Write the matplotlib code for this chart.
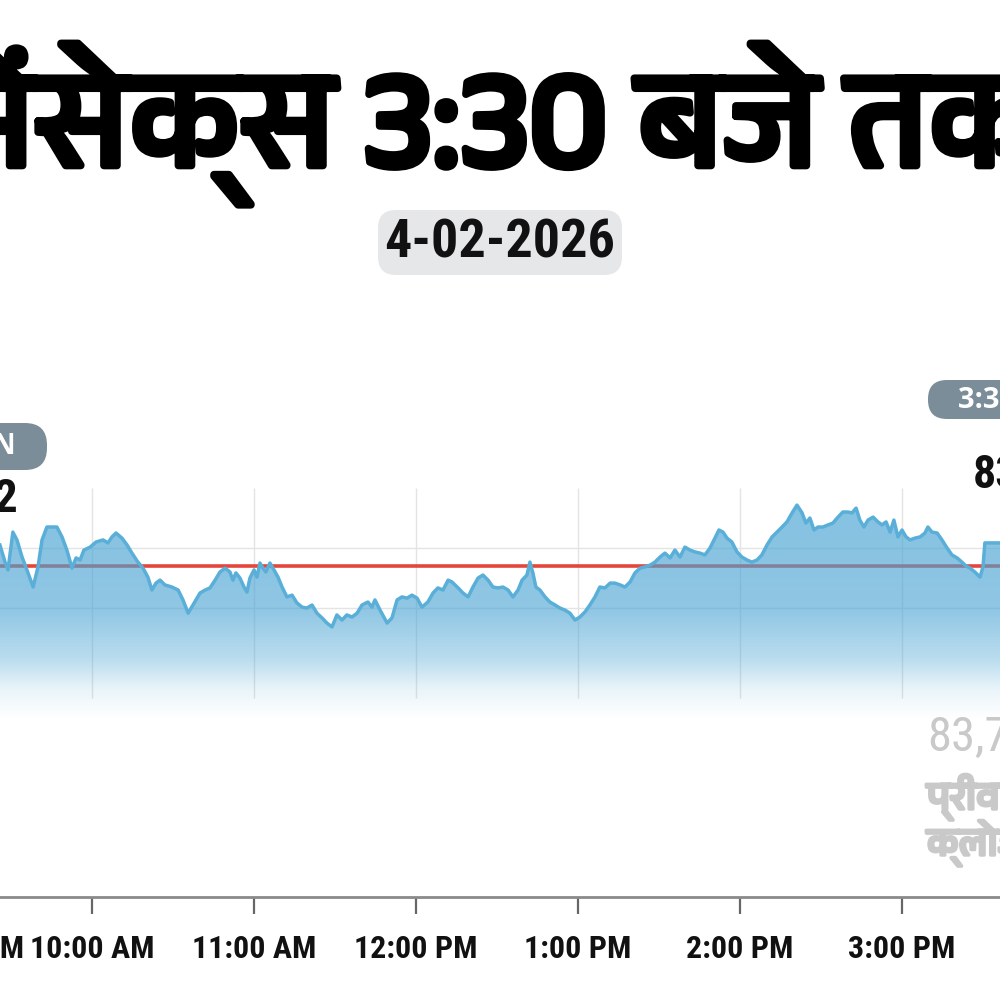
# -*- coding: utf-8 -*-
"""
सेंसेक्स 3:30 बजे तक - intraday area chart (4-02-2026)
"""
import numpy as np
import matplotlib
matplotlib.use('Agg')
import matplotlib.pyplot as plt
import matplotlib.patheffects as pe
from matplotlib import font_manager
from matplotlib.ft2font import FT2Font
from matplotlib.patches import FancyBboxPatch

# ---------------- data ----------------
# minutes after 9:00 AM, Sensex level
minutes = [25.9, 27.8, 28.9, 30.7, 32.2, 34.1, 35.9, 38.2, 40.0, 41.5, 43.3, 45.2, 47.0, 48.9,
           50.7, 52.6, 54.1, 55.6, 57.0, 59.3, 61.5, 64.1, 65.9, 67.4, 68.9, 71.1, 73.0, 74.8,
           77.0, 78.9, 80.7, 82.2, 83.7, 85.2, 87.0, 89.6, 91.9, 93.7, 95.6, 97.4, 100.0, 101.9,
           103.7, 105.6, 107.4, 109.3, 111.1, 112.2, 113.3, 114.8, 116.3, 117.4, 118.5, 120.0,
           121.1, 122.2, 123.3, 124.4, 125.9, 127.4, 128.9, 130.4, 132.2, 134.1, 135.9, 137.8,
           139.6, 141.5, 143.3, 145.2, 147.0, 148.9, 150.7, 152.6, 154.4, 156.3, 158.2, 160.0,
           162.2, 163.7, 164.8, 166.7, 169.3, 171.1, 173.0, 174.8, 176.7, 178.5, 180.4, 182.2,
           184.4, 186.3, 188.1, 190.0, 191.9, 193.3, 195.6, 197.4, 199.3, 201.1, 203.0, 204.8,
           206.7, 208.5, 210.4, 212.2, 214.1, 215.9, 217.8, 219.3, 221.1, 222.2, 223.3, 224.4,
           225.9, 227.8, 229.6, 231.5, 233.3, 235.2, 237.0, 238.9, 240.7, 242.6, 244.4, 246.3,
           248.1, 250.0, 251.9, 253.7, 255.6, 257.4, 259.3, 261.1, 263.0, 264.8, 266.7, 268.5,
           270.4, 272.2, 274.1, 275.9, 277.8, 279.6, 281.5, 283.3, 285.2, 287.0, 288.9, 290.7,
           292.2, 293.7, 295.2, 297.0, 298.9, 300.7, 302.6, 304.4, 306.3, 308.1, 310.0, 311.9,
           313.7, 315.6, 317.4, 319.3, 321.1, 323.0, 324.4, 325.9, 327.4, 328.9, 330.7, 332.6,
           334.4, 336.3, 338.1, 340.0, 341.5, 343.0, 344.4, 345.9, 347.4, 349.3, 351.1, 352.6,
           354.1, 355.6, 357.0, 358.5, 360.0, 361.5, 363.0, 364.8, 366.7, 368.5, 369.6, 371.1,
           373.0, 374.8, 376.7, 378.5, 380.4, 382.2, 383.7, 385.2, 387.0, 388.9, 390.0, 390.7,
           396.3, 400.0]
sensex = [83810, 83753, 83727, 83853, 83827, 83770, 83727, 83670, 83737, 83827, 83870, 83870, 83870, 83837,
          83793, 83733, 83767, 83760, 83793, 83803, 83820, 83827, 83817, 83837, 83850, 83833, 83810, 83783,
          83753, 83733, 83703, 83660, 83683, 83693, 83677, 83670, 83660, 83627, 83583, 83610, 83650, 83660,
          83667, 83693, 83720, 83733, 83720, 83693, 83717, 83700, 83670, 83653, 83700, 83727,
          83703, 83750, 83733, 83720, 83750, 83727, 83703, 83670, 83637, 83643, 83617, 83603,
          83600, 83610, 83583, 83567, 83550, 83537, 83577, 83560, 83577, 83570, 83583, 83610,
          83620, 83603, 83627, 83593, 83550, 83567, 83627, 83637, 83633, 83643, 83633, 83603,
          83620, 83650, 83667, 83660, 83693, 83687, 83667, 83650, 83637, 83670, 83700, 83710,
          83693, 83670, 83667, 83670, 83660, 83637, 83660, 83693, 83710, 83753, 83717, 83670,
          83660, 83637, 83620, 83610, 83600, 83593, 83583, 83560, 83570, 83587, 83610, 83637,
          83670, 83667, 83683, 83683, 83677, 83670, 83687, 83717, 83733, 83737, 83743, 83753,
          83770, 83783, 83767, 83793, 83770, 83803, 83793, 83787, 83783, 83777, 83800, 83833,
          83860, 83853, 83833, 83820, 83787, 83770, 83760, 83753, 83760, 83777, 83810, 83837,
          83853, 83870, 83887, 83917, 83943, 83917, 83883, 83900, 83860, 83870, 83870, 83877,
          83883, 83903, 83920, 83920, 83917, 83933, 83893, 83870, 83893, 83903, 83887, 83877,
          83887, 83853, 83893, 83837, 83860, 83837, 83827, 83833, 83837, 83850, 83870, 83853,
          83850, 83827, 83800, 83777, 83767, 83753, 83740, 83733, 83720, 83703, 83737, 83817,
          83817, 83817]

prev_close = 83739.13
open_value = '83,765.12'
close_value = '83,817.69'

tick_minutes = [60, 120, 180, 240, 300, 360]
tick_labels = ['10:00 AM', '11:00 AM', '12:00 PM', '1:00 PM', '2:00 PM', '3:00 PM']
first_tick = (15, '9:15 AM')
grid_levels = [83600, 83800]

title = 'सेंसेक्स 3:30 बजे तक'
date_text = '4-02-2026'
prev_lines = ['83,739.13', 'प्रीवियस', 'क्लोज']


# ---------------- fonts ----------------
def devanagari_font():
    """找一个带天城文字形的字体, 尽量不用点阵字体"""
    found = []
    for f in font_manager.fontManager.ttflist:
        try:
            if ord('स') in FT2Font(f.fname).get_charmap():
                found.append(f.name)
        except Exception:
            pass
    if not found:
        return None

    def rank(n):
        low = n.lower()
        if 'devanagari' in low:
            return 0
        if 'unifont' in low or 'fixed' in low:
            return 2
        return 1
    return sorted(found, key=rank)[0]

names = {f.name for f in font_manager.fontManager.ttflist}
deva = devanagari_font()
hindi_family = [deva, 'DejaVu Sans'] if deva else ['DejaVu Sans']
narrow = next((n for n in ['Liberation Sans Narrow', 'DejaVu Sans Condensed', 'Roboto Condensed', 'Roboto']
               if n in names), 'DejaVu Sans')
pill_font = 'Open Sans' if 'Open Sans' in names else 'DejaVu Sans'

plt.rcParams['font.family'] = [narrow, 'DejaVu Sans']

# ---------------- figure ----------------
fig = plt.figure(figsize=(10, 10), dpi=100)
ax = fig.add_axes([0, 0.103, 1, 0.409])

xmin, xmax = 25.93, 396.3
ymin, ymax = 82637, 84000

# grid
for lv in grid_levels:
    ax.axhline(lv, color='#e4e4e4', lw=1, zorder=1)
ax.vlines(tick_minutes, 83300, ymax, color='#e4e4e4', lw=1, zorder=1)

# previous close line (under the fill)
ax.axhline(prev_close, color='#e5463c', lw=2.6, zorder=1.5)

# gradient area fill
fill = ax.fill_between(minutes, sensex, ymin, color='none', lw=0)
lv = np.linspace(ymin, ymax, 500)
alpha = np.interp(lv, [83230, 83330, 83430, 83600, 84000], [0, 0.12, 0.38, 0.62, 0.68])
img = np.zeros((500, 1, 4))
img[..., 0], img[..., 1], img[..., 2] = 0.29, 0.64, 0.83
img[..., 3] = alpha[:, None]
im = ax.imshow(img, extent=[xmin, xmax, ymin, ymax], origin='lower', aspect='auto', zorder=2)
im.set_clip_path(fill.get_paths()[0], transform=ax.transData)

ax.plot(minutes, sensex, color='#5aafd8', lw=2.5, zorder=3, solid_joinstyle='round')

for s in ['top', 'left', 'right']:
    ax.spines[s].set_visible(False)
ax.spines['bottom'].set_color('#8a8a8a')
ax.spines['bottom'].set_linewidth(2)
ax.set_facecolor('none')
ax.set_yticks([])
ax.set_xticks(tick_minutes)
ax.set_xticklabels(tick_labels, fontsize=23, fontweight='bold', color='#111111')
ax.tick_params(axis='x', length=12, width=1.6, color='#666666', pad=15)
# set_xticks 会扩展范围, 所以最后再设定
ax.set_xlim(xmin, xmax)
ax.set_ylim(ymin, ymax)

# 9:15 的刻度在可视范围外, 只露出标签的一角
ax.annotate(first_tick[1], xy=(first_tick[0], 0), xycoords=('data', 'axes fraction'),
            xytext=(0, -27), textcoords='offset points', ha='center', va='top',
            fontsize=23, fontweight='bold', color='#111111', annotation_clip=False)

# ---------------- text ----------------
bold_fx = [pe.withStroke(linewidth=5.5, foreground='black')]
fig.text(0.49, 0.876, title, ha='center', va='center', fontsize=99,
         family=hindi_family, color='black', path_effects=bold_fx)

fig.patches.append(FancyBboxPatch((0.378, 0.725), 0.244, 0.065, boxstyle='round,pad=0,rounding_size=0.018',
                                  transform=fig.transFigure, facecolor='#e6e7e9', edgecolor='none'))
fig.text(0.5, 0.757, date_text, ha='center', va='center', fontsize=39, fontweight='bold', color='#111111')

# open pill (left) and close pill (right)
fig.patches.append(FancyBboxPatch((-0.10, 0.530), 0.147, 0.047, boxstyle='round,pad=0,rounding_size=0.022',
                                  transform=fig.transFigure, facecolor='#7b8d99', edgecolor='none'))
fig.text(0.016, 0.553, 'OPEN', ha='right', va='center', fontsize=20, fontweight='bold',
         family=pill_font, color='white')
fig.text(0.018, 0.502, open_value, ha='right', va='center', fontsize=34, fontweight='bold', color='#111111')

fig.patches.append(FancyBboxPatch((0.928, 0.581), 0.15, 0.039, boxstyle='round,pad=0,rounding_size=0.019',
                                  transform=fig.transFigure, facecolor='#7b8d99', edgecolor='none'))
fig.text(0.958, 0.600, '3:30 PM', ha='left', va='center', fontsize=21, fontweight='bold',
         family=pill_font, color='white')
fig.text(0.973, 0.526, close_value, ha='left', va='center', fontsize=33, fontweight='bold', color='#111111')

# previous close label
grey = '#c9c9c9'
grey_fx = [pe.withStroke(linewidth=2.5, foreground=grey)]
fig.text(0.927, 0.262, prev_lines[0], ha='left', va='center', fontsize=35, color=grey)
fig.text(0.927, 0.203, prev_lines[1], ha='left', va='center', fontsize=28,
         family=hindi_family, color=grey, path_effects=grey_fx)
fig.text(0.927, 0.157, prev_lines[2], ha='left', va='center', fontsize=28,
         family=hindi_family, color=grey, path_effects=grey_fx)

fig.savefig('out.png', dpi=100, facecolor='white')
